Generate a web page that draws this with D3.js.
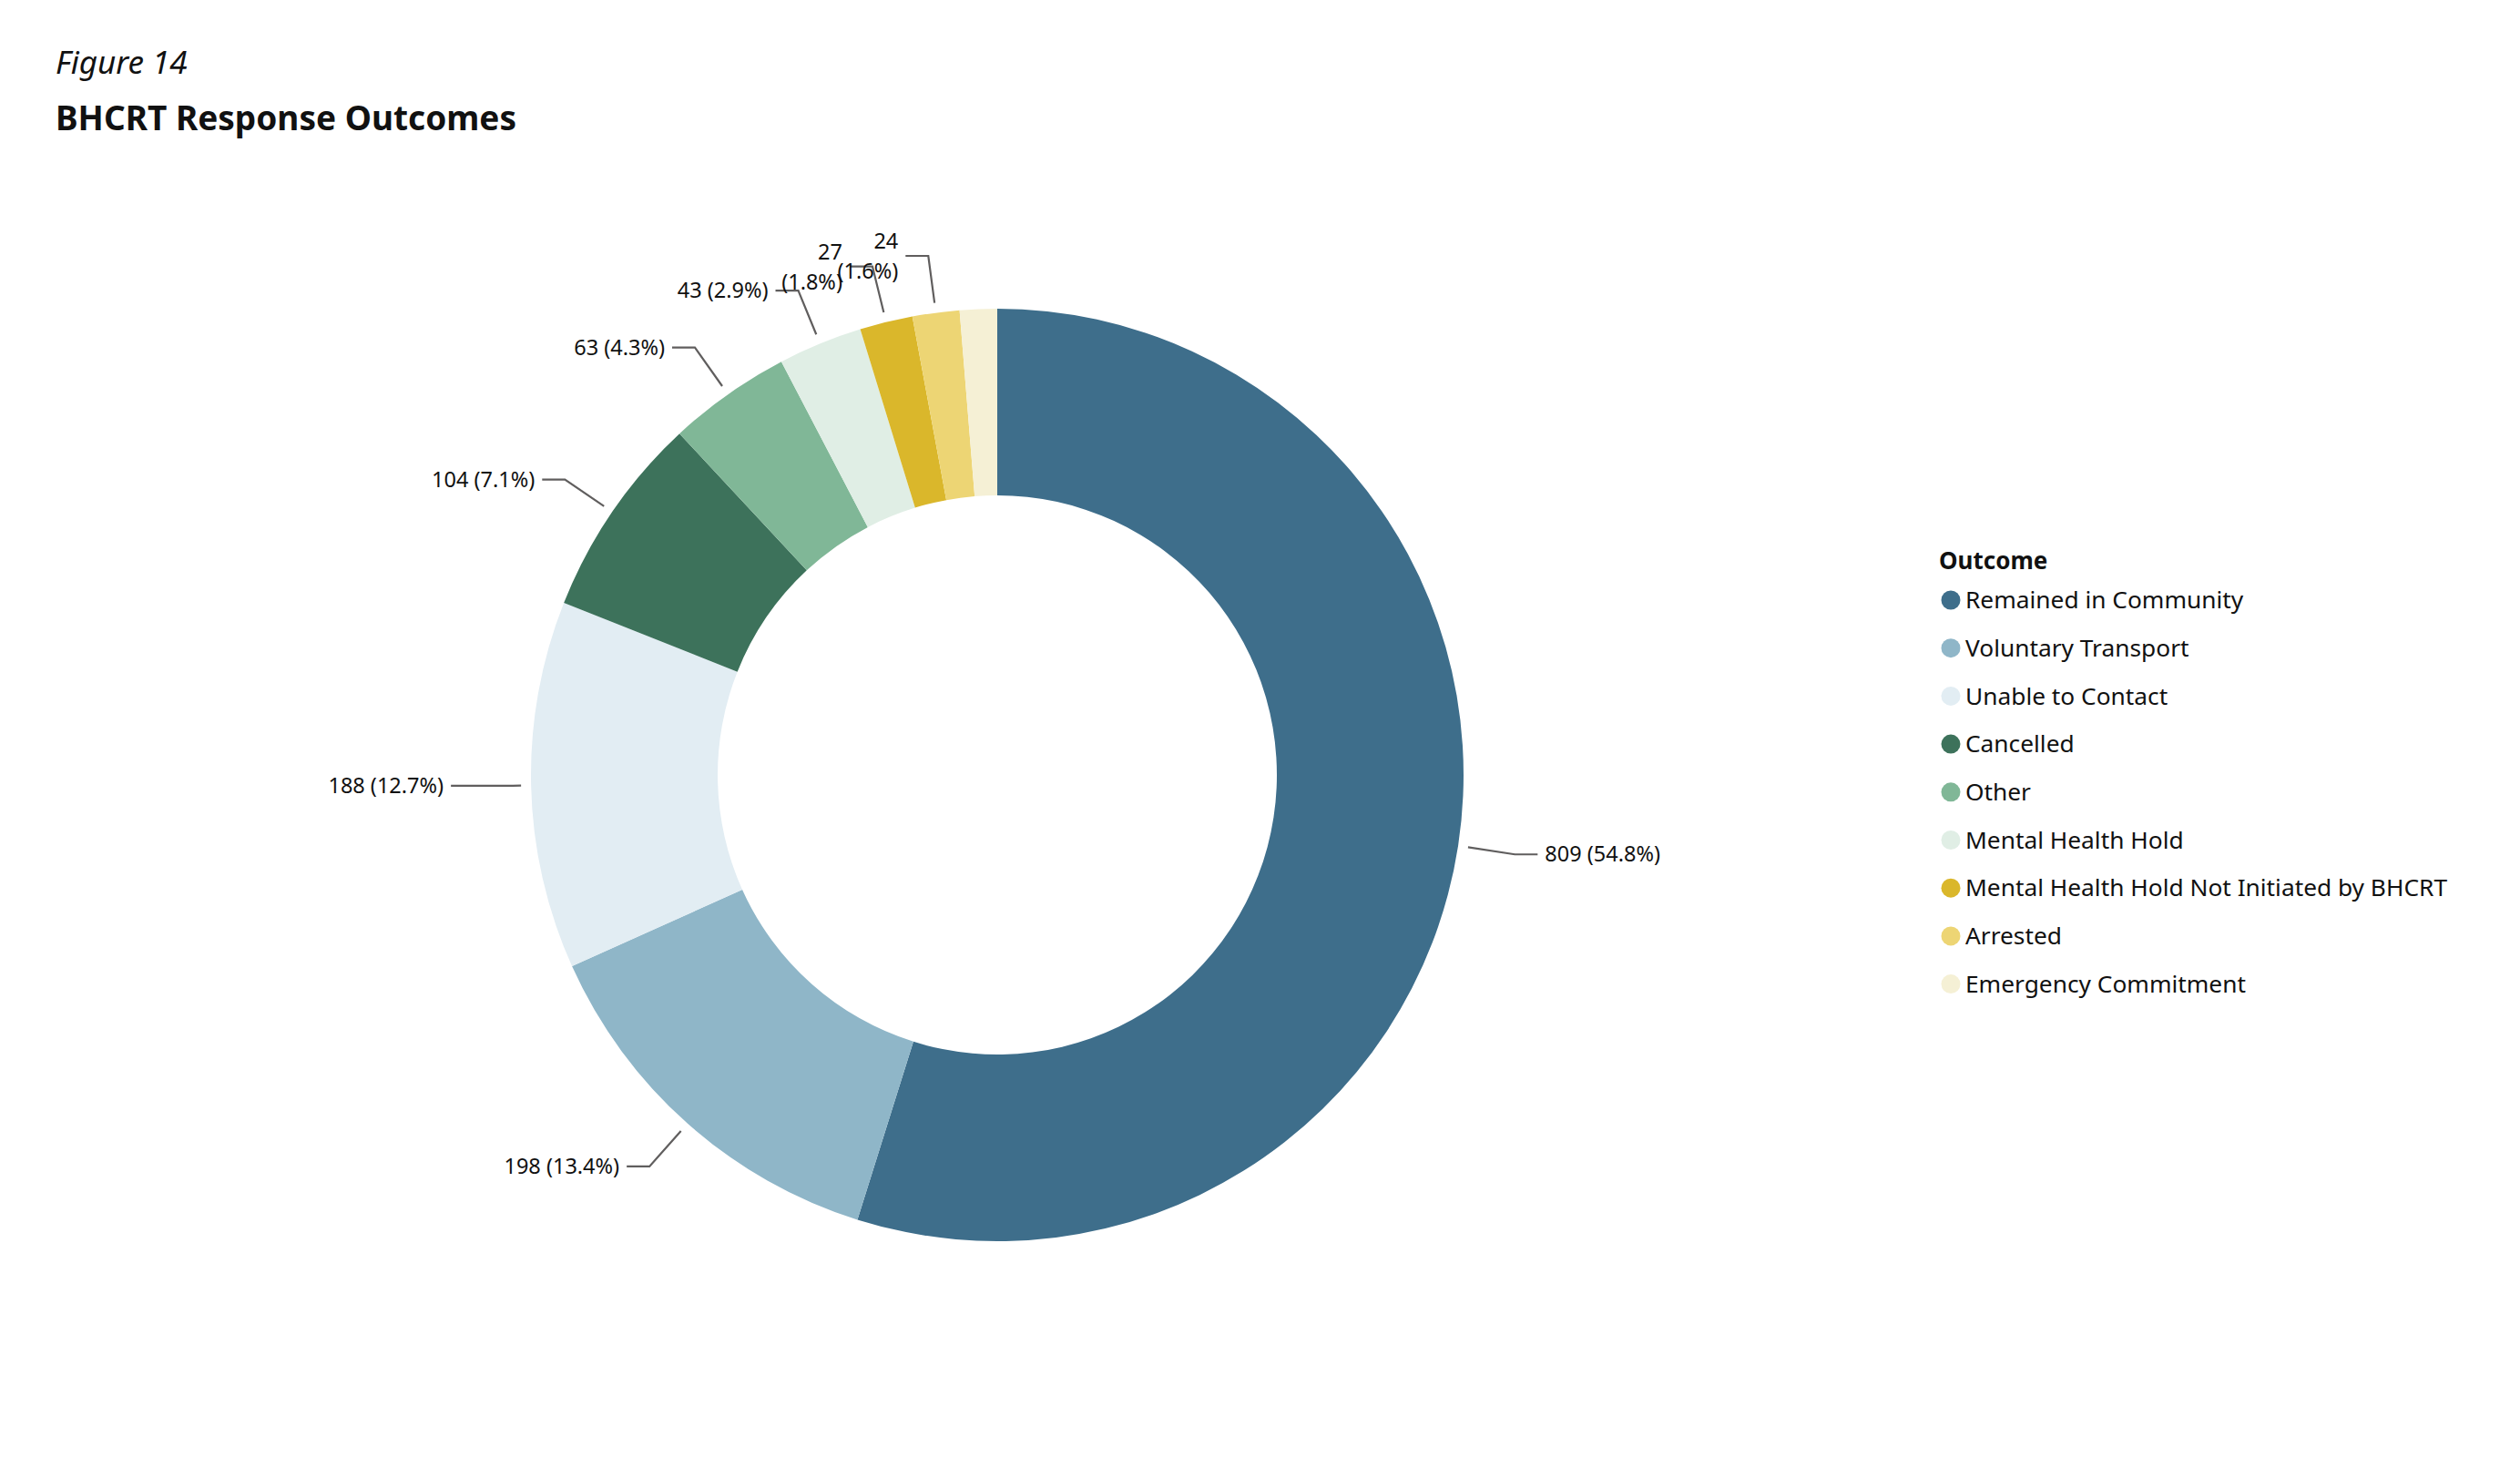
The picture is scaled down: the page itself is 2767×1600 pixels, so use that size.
<html>
<script src="https://d3js.org/d3.v7.min.js"></script>
<style>
    body {margin: 0; background: #fff;}
    text {font-family: "Noto Sans", "Open Sans", sans-serif; fill: #111;}
</style>
<body>
<svg width=2767 height=1600></svg>
<script>
// values
const outcomes = ["Remained in Community", "Voluntary Transport", "Unable to Contact", "Cancelled", "Other",
    "Mental Health Hold", "Mental Health Hold Not Initiated by BHCRT", "Arrested", "Emergency Commitment"];
const counts = [809, 198, 188, 104, 63, 43, 27, 24, 19];
const colors = ["#3e6e8b", "#8fb6c8", "#e2edf3", "#3d725b", "#80b797", "#e0eee5", "#dab72b", "#edd574", "#f5f0d5"];

const total = d3.sum(counts);
const svg = d3.select('svg');

// titles
svg.append("text").attr("x", 61).attr("y", 81)
    .style("font-size", "35px").style("font-style", "italic")
    .text("Figure 14");
svg.append("text").attr("x", 61).attr("y", 143)
    .style("font-size", "37px").style("font-weight", "bold")
    .text("BHCRT Response Outcomes");

// donut
const cx = 1095, cy = 851, R = 512, r0 = 307;
const pie = d3.pie().sort(null).value(d => d.count);
const arc = d3.arc().innerRadius(r0).outerRadius(R);
const rows = outcomes.map((o, i) => ({outcome: o, count: counts[i], color: colors[i]}));
const arcs = pie(rows);

const g = svg.append("g").attr("transform", `translate(${cx},${cy})`);
g.selectAll("path.slice")
    .data(arcs)
    .enter()
    .append("path")
    .attr("class", "slice")
    .attr("d", arc)
    .attr("fill", d => d.data.color);

// leader lines + labels
function pt(a, rad) { return [rad * Math.sin(a), -rad * Math.cos(a)]; }

const labelled = arcs.filter(d => d.data.count / total >= 0.015);
labelled.forEach(function(d) {
    const a = (d.startAngle + d.endAngle) / 2;
    const share = d.data.count / total;
    const right = Math.sin(a) > 0;
    const nearFlat = Math.abs(Math.cos(a)) < 0.05;
    const radial = nearFlat ? 9 : 52;
    const horiz = 77 - radial;
    const p0 = pt(a, R + 11);
    const p1 = pt(a, R + 11 + radial);
    const p2 = [p1[0] + (right ? horiz : -horiz), p1[1]];

    g.append("polyline")
        .attr("points", [p0, p1, p2].map(p => p.join(",")).join(" "))
        .attr("fill", "none")
        .attr("stroke", "#605e5e")
        .attr("stroke-width", 2.2);

    const lbl = d.data.count + " (" + (share * 100).toFixed(1) + "%)";
    const tx = p2[0] + (right ? 8 : -8);
    const t = g.append("text")
        .attr("x", tx)
        .attr("y", p2[1])
        .attr("text-anchor", right ? "start" : "end")
        .style("font-size", "23.5px");
    if (share < 0.02) {
        const parts = lbl.split(" ");
        t.append("tspan").attr("x", tx).attr("y", p2[1] - 8).text(parts[0]);
        t.append("tspan").attr("x", tx).attr("y", p2[1] + 25).text(parts[1]);
    } else {
        t.attr("dy", "0.35em").text(lbl);
    }
});

// legend
const lg = svg.append("g").attr("transform", "translate(2129,625)");
lg.append("text").attr("x", 0).attr("y", 0)
    .style("font-size", "26px").style("font-weight", "bold")
    .text("Outcome");
const item = lg.selectAll("g.item")
    .data(rows)
    .enter()
    .append("g")
    .attr("class", "item")
    .attr("transform", (d, i) => `translate(0,${34 + i * 52.7})`);
item.append("circle").attr("cx", 13).attr("cy", 0).attr("r", 10.5).attr("fill", d => d.color);
item.append("text").attr("x", 29).attr("y", 0).attr("dy", "0.35em")
    .style("font-size", "26.3px")
    .text(d => d.outcome);
</script>
</body>
</html>
